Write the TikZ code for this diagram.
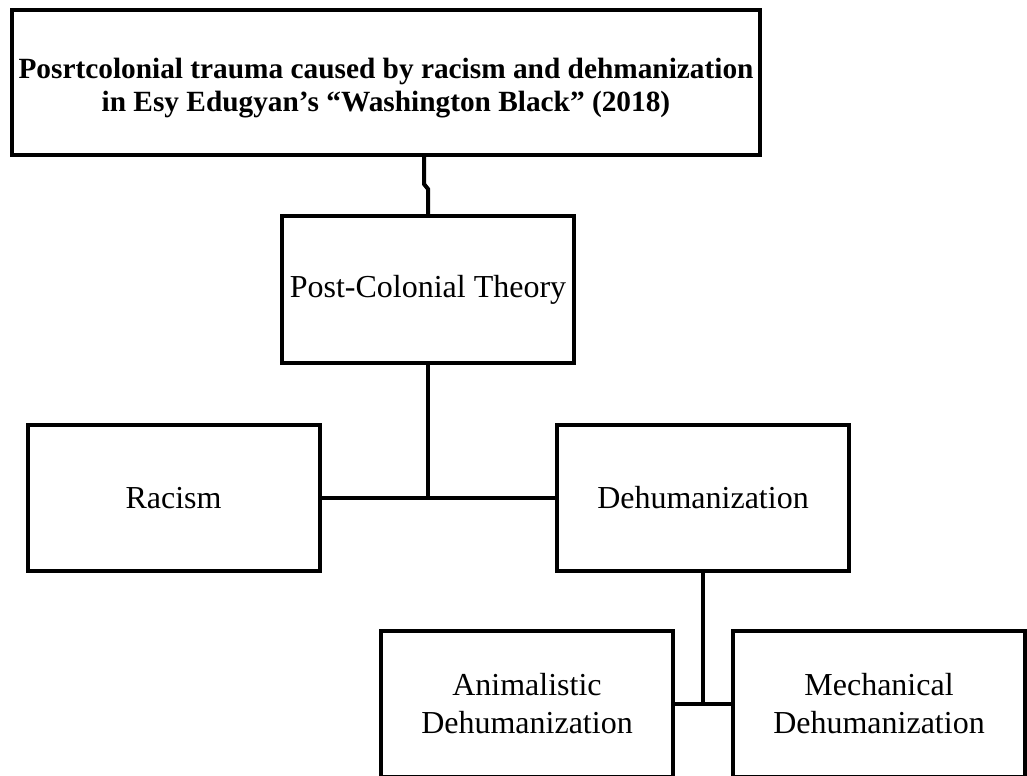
\documentclass[tikz,border=0pt]{standalone}
\usepackage{fontspec}
\setmainfont{Liberation Serif}

\begin{document}
\begin{tikzpicture}[x=0.75pt, y=-0.75pt, line width=3pt,
    box/.style={draw, minimum width=219pt, minimum height=110pt, align=center, inner sep=2pt, font=\fontsize{24}{28.5}\selectfont},
    titlebox/.style={box, minimum width=561pt, minimum height=108.75pt, font=\fontsize{22}{25}\selectfont\bfseries}]
    \useasboundingbox (0,0) rectangle (1027,775);

    \node (title) at (386,82.5) [titlebox] {\rule{0pt}{24pt}Posrtcolonial trauma caused by racism and dehmanization\\in Esy Edugyan's ``Washington Black'' (2018)};
    \node (theory) at (428,289.5) [box] {Post-Colonial Theory};
    \node (racism) at (173.5,498) [box] {Racism};
    \node (dehum) at (703,498) [box] {Dehumanization};
    \node (animal) at (527,704) [box] {Animalistic\\Dehumanization};
    \node (mech) at (879,704) [box] {Mechanical\\Dehumanization};

    \coordinate (jog) at (424,184);
    \draw (title.south -| jog) -- (jog) -- (428,189) -- (theory.north);

    \draw (racism) -- (dehum);
    \draw (theory.south) -- (theory.south |- racism.east);

    \draw (animal) -- (mech);
    \draw (dehum.south) -- (dehum.south |- animal.east);
\end{tikzpicture}
\end{document}
